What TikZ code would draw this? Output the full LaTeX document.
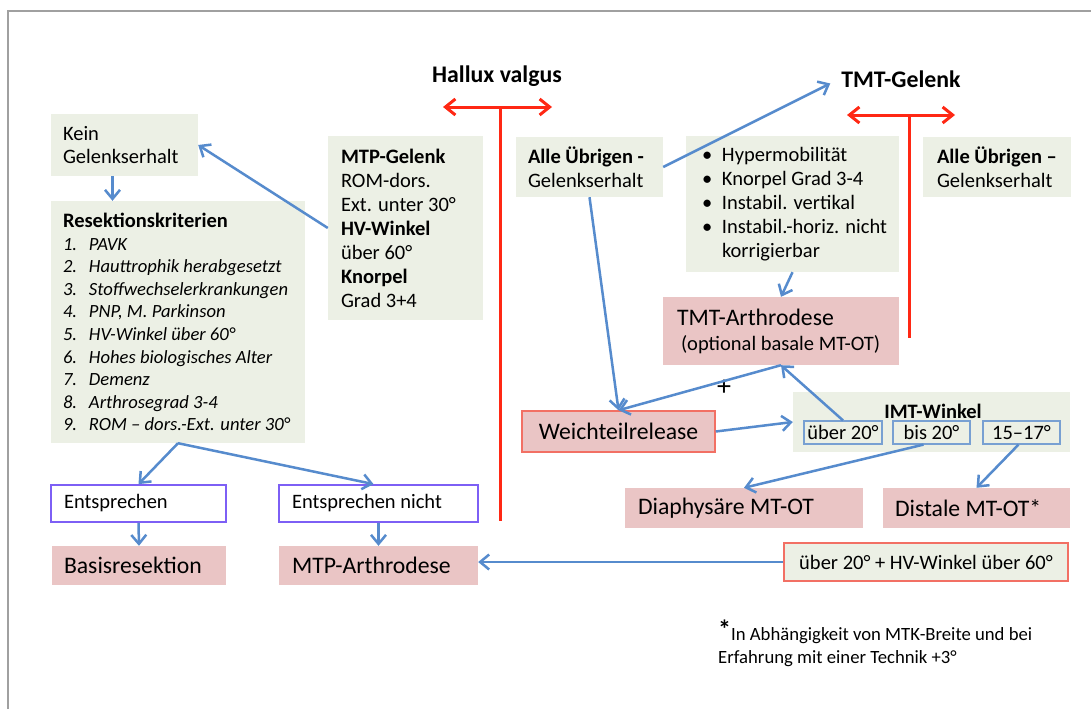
\documentclass[tikz,border=0pt]{standalone}
\usepackage{fontspec}
\setmainfont{Carlito}
\usetikzlibrary{arrows.meta}
\definecolor{boxgreen}{RGB}{236,240,229}
\definecolor{boxpink}{RGB}{234,197,197}
\definecolor{arrblue}{RGB}{86,139,205}
\definecolor{tred}{RGB}{255,40,20}
\definecolor{salmon}{RGB}{242,112,100}
\definecolor{purp}{RGB}{125,95,245}
\definecolor{subblue}{RGB}{120,160,210}
\definecolor{framegray}{RGB}{160,160,160}
\newcommand{\fmain}{\fontsize{20.5}{24}\selectfont}
\newcommand{\fbig}{\fontsize{23.7}{26}\selectfont}
\newcommand{\bul}{\makebox[20pt][l]{•}}
\begin{document}
\begin{tikzpicture}[x=1pt,y=-1pt,
  gbox/.style={fill=boxgreen, inner ysep=0pt, align=flush left},
  pbox/.style={fill=boxpink, inner ysep=0pt, align=flush left},
  ebox/.style={draw=purp, line width=1.8pt, fill=white, inner ysep=0pt, align=flush left, minimum height=37pt, font=\fmain},
  subbox/.style={draw=subblue, line width=1.2pt, inner sep=0pt, minimum height=23pt, font=\fmain},
  arr/.style={draw=arrblue, line width=2.5pt, -{Straight Barb[length=9pt,width=15pt]}},
  tarr/.style={draw=tred, line width=3pt, {Straight Barb[length=10pt,width=16pt]}-{Straight Barb[length=10pt,width=16pt]}},
  tline/.style={draw=tred, line width=3pt},
  head/.style={font=\fontsize{23.8}{26}\selectfont\bfseries, inner sep=2pt},
]
\useasboundingbox (0,0) rectangle (1091,709);
\fill[white] (0,0) rectangle (1091,709);
\draw[framegray, line width=1.6pt] (8,709) -- (8,11) -- (1091,11);

% left column
\node[gbox, minimum height=62pt, inner xsep=12pt, text width=123pt, font=\fontsize{20.5}{23}\selectfont] (kein) at (124.5,145) {Kein\\Gelenkserhalt};
\node[gbox, minimum height=242pt, inner xsep=12pt, text width=230pt, font=\fontsize{18.6}{22.6}\selectfont] (res) at (178,322)
 {\mbox{\fontsize{20.5}{22.6}\selectfont\bfseries Resektionskriterien}\\
  \itshape\mbox{\makebox[26pt][l]{1.}PAVK}\\
  \mbox{\makebox[26pt][l]{2.}Hauttrophik herabgesetzt}\\
  \mbox{\makebox[26pt][l]{3.}Stoffwechselerkrankungen}\\
  \mbox{\makebox[26pt][l]{4.}PNP, M. Parkinson}\\
  \mbox{\makebox[26pt][l]{5.}HV-Winkel über 60°}\\
  \mbox{\makebox[26pt][l]{6.}Hohes biologisches Alter}\\
  \mbox{\makebox[26pt][l]{7.}Demenz}\\
  \mbox{\makebox[26pt][l]{8.}Arthrosegrad 3-4}\\
  \mbox{\makebox[26pt][l]{9.}ROM – dors.-Ext. unter 30°}};
\node[gbox, minimum height=184pt, inner xsep=13pt, text width=129pt, font=\fmain] (mtp) at (405.5,228)
 {\textbf{MTP-Gelenk}\\ROM-dors.\\\mbox{Ext. unter 30°}\\\textbf{HV-Winkel}\\über 60°\\\textbf{Knorpel}\\Grad 3+4};

\node[ebox, inner xsep=13pt, text width=149pt] (ent) at (138.5,503.5) {Entsprechen};
\node[ebox, inner xsep=13pt, text width=173pt] (entn) at (378.5,503.5) {Entsprechen nicht};
\node[pbox, minimum height=39pt, inner xsep=12pt, text width=150pt, font=\fbig] (basis) at (139,565.5) {Basisresektion};
\node[pbox, minimum height=39pt, inner xsep=13pt, text width=173pt, font=\fbig] (mtpa) at (378.5,565.5) {MTP-Arthrodese};

% headings
\node[head] (hallux) at (497,76) {Hallux valgus};
\node[head] (tmtg) at (901,79) {TMT-Gelenk};

% right part
\node[gbox, minimum height=60pt, inner xsep=12pt, text width=123pt, font=\fmain] (alle1) at (589.5,167) {\mbox{\textbf{Alle Übrigen -}}\\Gelenkserhalt};
\node[gbox, minimum height=136pt, inner xsep=16pt, text width=181pt, font=\fmain] (bul) at (792.5,204)
 {\mbox{\bul Hypermobilität}\\\mbox{\bul Knorpel Grad 3-4}\\\mbox{\bul Instabil. vertikal}\\\mbox{\bul Instabil.-horiz. nicht}\\\hspace*{20pt}korrigierbar};
\node[gbox, minimum height=60pt, inner xsep=14pt, text width=120pt, font=\fmain] (alle2) at (997,167) {\mbox{\textbf{Alle Übrigen –}}\\Gelenkserhalt};
\node[pbox, minimum height=68pt, inner xsep=14pt, text width=208pt, font=\fontsize{20.5}{25}\selectfont] (tmta) at (781,331)
 {{\fbig TMT-Arthrodese}\\\mbox{\hspace*{4pt}(optional basale MT-OT)}};
\node[pbox, draw=salmon, line width=1.5pt, inner sep=0pt, minimum width=193pt, minimum height=41pt, font=\fbig] (weich) at (618.5,431.5) {Weichteilrelease};
\node[gbox, minimum width=277pt, minimum height=60pt] (imt) at (931.5,422) {};
\node[font=\fmain\bfseries, inner sep=0pt] (imtl) at (933,411) {IMT-Winkel};
\node[subbox, minimum width=78pt] (sub1) at (843,432.5) {über 20°};
\node[subbox, minimum width=77pt] (sub2) at (931.5,432.5) {bis 20°};
\node[subbox, minimum width=77pt] (sub3) at (1021.5,432.5) {15–17°};
\node[pbox, minimum height=40pt, inner xsep=13pt, text width=212pt, font=\fbig] (diaph) at (744,508) {Diaphysäre MT-OT};
\node[pbox, minimum height=40pt, inner xsep=12pt, text width=163pt, font=\fbig] (dist) at (976.5,508) {Distale MT-OT*};
\node[gbox, draw=salmon, line width=1.5pt, inner sep=0pt, minimum width=284pt, minimum height=38pt, font=\fmain] (hv60) at (926,562) {über 20° + HV-Winkel über 60°};
\node[font=\fontsize{28}{28}\selectfont, inner sep=0pt] (plus) at (724,388) {+};

\node[anchor=north west, align=flush left, inner sep=0pt, font=\fontsize{18.7}{23}\selectfont] (fn) at (718,620)
 {\raisebox{2pt}{\fontsize{26}{26}\selectfont\bfseries *}In Abhängigkeit von MTK-Breite und bei\\Erfahrung mit einer Technik +3°};

% red T-bars
\coordinate (h1l) at (443,107);
\coordinate (h1r) at (552,107);
\coordinate (h1m) at (500,107);
\coordinate (h1b) at (500,521);
\draw[tarr] (h1l) -- (h1r);
\draw[tline] (h1m) -- (h1b);
\coordinate (h2l) at (847,115);
\coordinate (h2r) at (955,115);
\coordinate (h2m) at (909,115);
\coordinate (h2b) at (909,338);
\draw[tarr] (h2l) -- (h2r);
\draw[tline] (h2m) -- (h2b);

% connectors
\draw[arr] (mtp.west) -- (kein.east);
\draw[arr] ([xshift=-12pt]kein.south) -- ([xshift=-12pt]kein.south |- res.north);
\draw[arr] (res.south) -- (ent.north);
\draw[arr] (res.south) -- ([xshift=-5pt]entn.north);
\draw[arr] (ent.south) -- (basis.north);
\draw[arr] (entn.south) -- (mtpa.north);
\draw[arr] (hv60.west) -- (hv60.west -| mtpa.east);
\draw[arr, shorten >=10pt] (alle1.east) -- (tmtg.west);
\draw[arr] (alle1.south) -- (weich.north);
\draw[arr] (bul.south) -- (tmta.north);
\draw[arr] (tmta.south) -- (weich.north);
\draw[arr] (sub1.north) -- (tmta.south);
\draw[arr] (weich.east) -- (imt.west);
\draw[arr] ([xshift=-8pt]sub2.south) -- (diaph.north);
\draw[arr] ([xshift=-3pt]sub3.south) -- (dist.north);
\end{tikzpicture}
\end{document}
